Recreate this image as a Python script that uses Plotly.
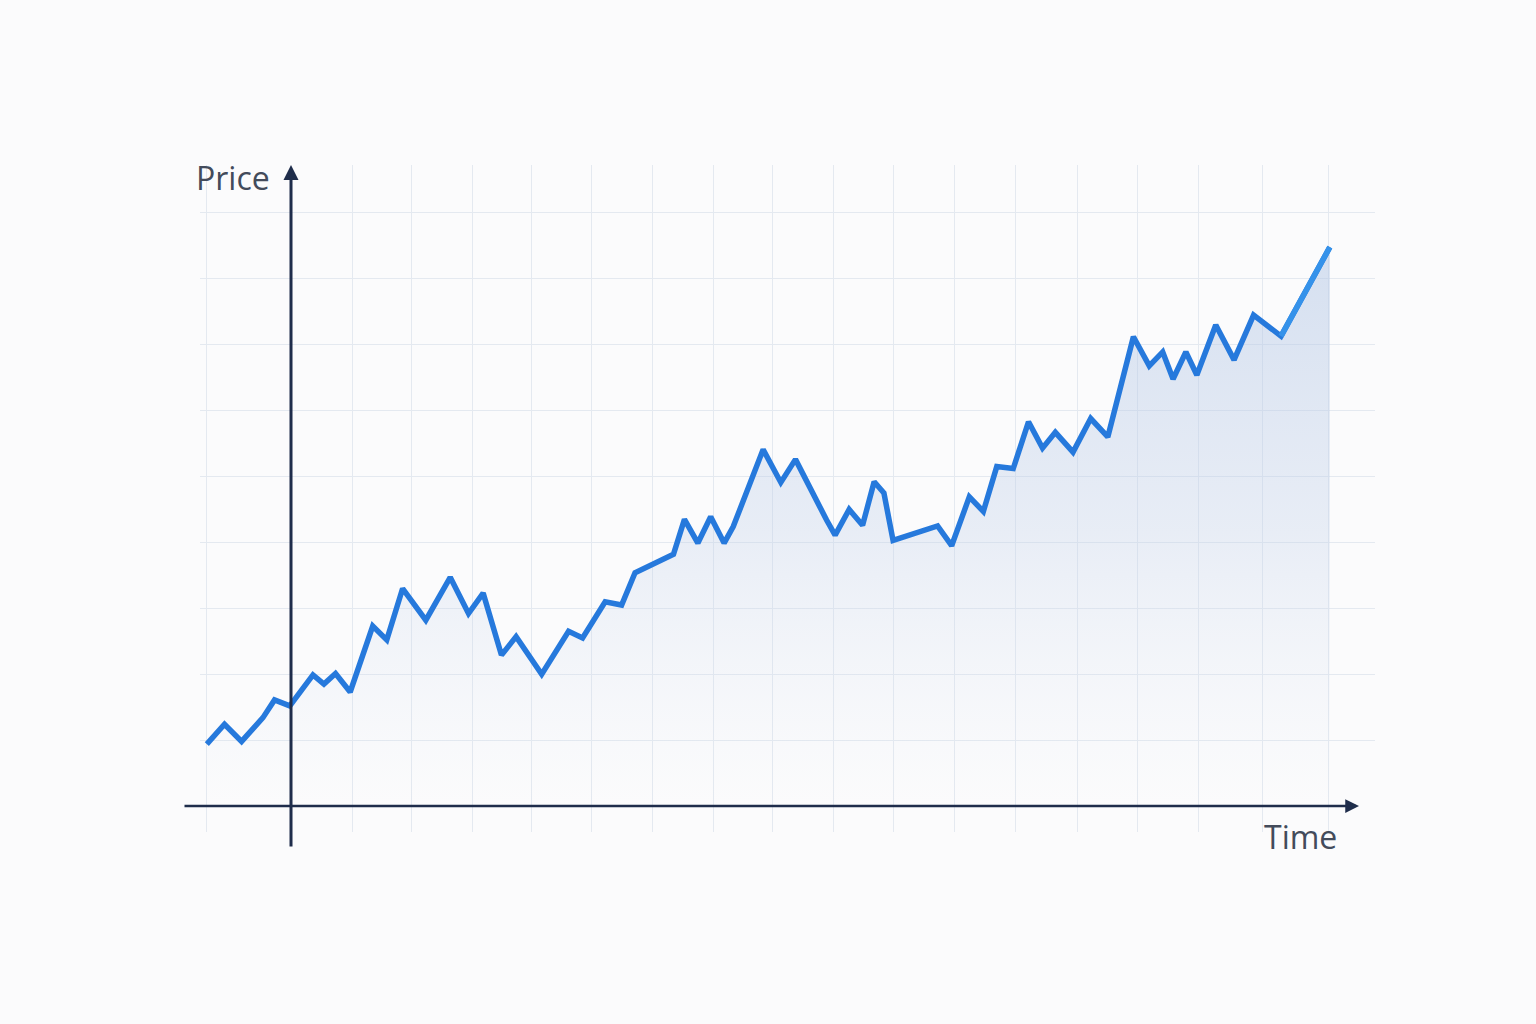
import plotly.graph_objects as go

# ---- data (time, price) ----
time = [-1.38, -1.09, -0.81, -0.46, -0.27, -0.02, 0.36, 0.54, 0.73, 0.97,
        1.34, 1.57, 1.83, 2.21, 2.61, 2.91, 3.15, 3.45, 3.69, 4.11,
        4.55, 4.78, 5.15, 5.42, 5.64, 6.27, 6.45, 6.67, 6.88, 7.10,
        7.25, 7.74, 8.03, 8.27, 8.78, 8.92, 9.15, 9.37, 9.56, 9.72,
        9.87, 10.60, 10.83, 11.12, 11.35, 11.57, 11.84, 12.09, 12.32, 12.53,
        12.82, 13.11, 13.39, 13.81, 14.07, 14.29, 14.46, 14.67, 14.85, 15.16,
        15.46, 15.78, 16.23, 17.03]
price = [0.94, 1.24, 0.98, 1.34, 1.61, 1.52, 1.99, 1.85, 2.01, 1.73,
         2.73, 2.52, 3.30, 2.82, 3.47, 2.92, 3.23, 2.29, 2.57, 2.00,
         2.65, 2.55, 3.10, 3.05, 3.54, 3.82, 4.35, 3.99, 4.39, 3.99,
         4.24, 5.41, 4.91, 5.26, 4.34, 4.11, 4.50, 4.26, 4.92, 4.75,
         4.03, 4.25, 3.95, 4.69, 4.47, 5.15, 5.12, 5.83, 5.43, 5.67,
         5.37, 5.88, 5.60, 7.12, 6.68, 6.89, 6.48, 6.89, 6.54, 7.30,
         6.77, 7.45, 7.13, 8.48]

x_grid = [-1.38, 1.0, 1.98, 2.97, 3.95, 4.93, 5.93, 6.92, 7.90, 8.89,
          9.87, 10.87, 11.87, 12.89, 13.87, 14.87, 15.93, 17.0]
y_grid = [1, 2, 3, 4, 5, 6, 7, 8, 9]

AXIS = "#1f2d4b"
TEXT = "#434b5b"
GRID = "#e4e9f0"
LINE = "#2679dc"

fig = go.Figure()

fig.add_trace(go.Scatter(
    x=time, y=price, mode="lines", fill="tozeroy",
    line=dict(width=0, color="rgba(0,0,0,0)"),
    fillgradient=dict(type="vertical",
                      colorscale=[[0, "rgba(215,225,240,0.0)"],
                                  [0.5, "rgba(190,206,232,0.32)"],
                                  [1, "rgba(175,196,228,0.5)"]]),
    hoverinfo="skip", showlegend=False))

fig.add_trace(go.Scatter(
    x=time, y=price, mode="lines",
    line=dict(width=5.5, color=LINE, shape="linear"),
    showlegend=False))

# lighter final rise
fig.add_trace(go.Scatter(
    x=time[-2:], y=price[-2:], mode="lines",
    line=dict(width=5.5, color="#3592ea"),
    showlegend=False))

W, H = 1536, 1024
L, R, T, B = 200, 1375, 165, 832
ux, uy = 61.0, 65.9
x0 = -(291 - L) / ux
x1 = (R - 291) / ux
y1 = (806 - T) / uy
y0 = -(B - 806) / uy

fig.update_layout(
    width=W, height=H,
    margin=dict(l=L, r=W - R, t=T, b=H - B),
    paper_bgcolor="#fbfbfc", plot_bgcolor="#fbfbfc",
    xaxis=dict(range=[x0, x1], tickvals=x_grid, showticklabels=False,
               showgrid=True, gridcolor=GRID, gridwidth=1, zeroline=False,
               showline=False, ticks="", fixedrange=True),
    yaxis=dict(range=[y0, y1], tickvals=y_grid, showticklabels=False,
               showgrid=True, gridcolor=GRID, gridwidth=1, zeroline=False,
               showline=False, ticks="", fixedrange=True),
    font=dict(family="Open Sans, Lato, sans-serif"),
)

# axes with arrows
fig.add_annotation(x=0, y=y1, ax=0, ay=-(848 - 806) / uy,
                   xref="x", yref="y", axref="x", ayref="y",
                   showarrow=True, arrowhead=2, arrowsize=1.0, arrowwidth=3,
                   arrowcolor=AXIS, text="")
fig.add_annotation(x=(1359 - 291) / ux, y=0, ax=-(291 - 183) / ux, ay=0,
                   xref="x", yref="y", axref="x", ayref="y",
                   showarrow=True, arrowhead=2, arrowsize=1.1, arrowwidth=2.5,
                   arrowcolor=AXIS, text="")

fig.add_annotation(x=(272 - L) / (R - L), y=(B - 177) / (B - T),
                   xref="paper", yref="paper", text="Price", showarrow=False,
                   xanchor="right", yanchor="middle",
                   font=dict(size=32, color=TEXT))
fig.add_annotation(x=(1339 - L) / (R - L), y=(B - 836) / (B - T),
                   xref="paper", yref="paper", text="Time", showarrow=False,
                   xanchor="right", yanchor="middle",
                   font=dict(size=32, color=TEXT))

fig.write_html("out.html", config={"displayModeBar": False},
               post_script="document.body.style.margin='0';")
